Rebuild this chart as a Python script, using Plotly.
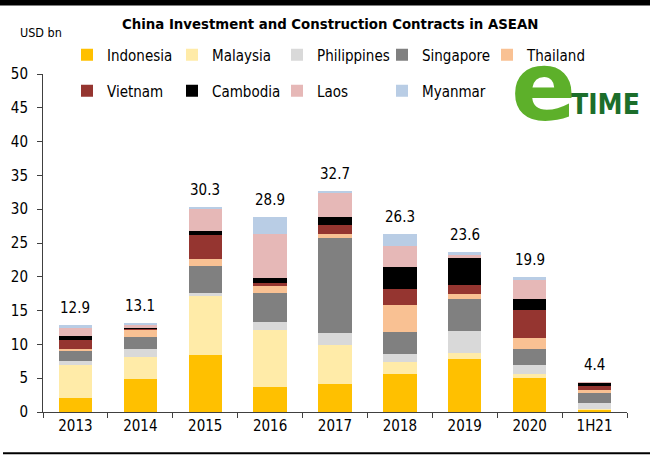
import plotly.graph_objects as go

years = ["2013", "2014", "2015", "2016", "2017", "2018", "2019", "2020", "1H21"]
indonesia   = [2.0, 4.9, 8.5, 3.7, 4.1, 5.6, 7.9, 5.1, 0.3]
malaysia    = [5.0, 3.3, 8.6, 8.5, 5.8, 1.8, 0.8, 0.5, 0.1]
philippines = [0.6, 1.1, 0.5, 1.1, 1.8, 1.2, 3.3, 1.4, 1.0]
singapore   = [1.5, 1.8, 4.0, 4.3, 14.1, 3.2, 4.7, 2.3, 1.4]
thailand    = [0.2, 1.0, 1.0, 1.1, 0.6, 4.0, 0.7, 1.7, 0.4]
vietnam     = [1.3, 0.3, 3.6, 0.4, 1.3, 2.4, 1.4, 4.1, 0.7]
cambodia    = [0.7, 0.1, 0.6, 0.7, 1.1, 3.3, 4.0, 1.6, 0.4]
laos        = [1.2, 0.3, 3.3, 6.5, 3.6, 3.1, 0.4, 2.8, 0.1]
myanmar     = [0.4, 0.3, 0.2, 2.6, 0.3, 1.7, 0.4, 0.4, 0.0]
totals      = [12.9, 13.1, 30.3, 28.9, 32.7, 26.3, 23.6, 19.9, 4.4]
total_labels = ["12.9", "13.1", "30.3", "28.9", "32.7", "26.3", "23.6", "19.9", "4.4"]
y_ticks = [0, 5, 10, 15, 20, 25, 30, 35, 40, 45, 50]

series = [
    ("Indonesia", indonesia, "#FFC000", "legend"),
    ("Malaysia", malaysia, "#FFEBA8", "legend"),
    ("Philippines", philippines, "#D9D9D9", "legend"),
    ("Singapore", singapore, "#808080", "legend"),
    ("Thailand", thailand, "#F9C193", "legend"),
    ("Vietnam", vietnam, "#953530", "legend2"),
    ("Cambodia", cambodia, "#000000", "legend2"),
    ("Laos", laos, "#E6B8B7", "legend2"),
    ("Myanmar", myanmar, "#B9CDE5", "legend2"),
]

W, H = 650, 457
L, R = 43, 627
T, B = 74, 411.7

def px_x(p):
    return (p - L) / (R - L)

def px_y(p):
    return (B - p) / (B - T)

FONT = "DejaVu Sans Condensed"

fig = go.Figure()
for name, vals, col, lg in series:
    fig.add_trace(go.Bar(x=years, y=vals, name=name, legend=lg,
                         marker=dict(color=col, line=dict(width=0))))

annotations = []
for i, (tot, lab) in enumerate(zip(totals, total_labels)):
    annotations.append(dict(x=i, y=tot, text=lab, showarrow=False, xref="x", yref="y",
                            yanchor="middle", yshift=17, font=dict(family=FONT, size=15, color="#000")))

annotations += [
    dict(x=px_x(330), y=px_y(24), xref="paper", yref="paper", text="<b>China Investment and Construction Contracts in ASEAN</b>",
         showarrow=False, xanchor="center", yanchor="middle", font=dict(family=FONT, size=14.8, color="#000")),
    dict(x=px_x(18), y=px_y(33), xref="paper", yref="paper", text="USD bn",
         showarrow=False, xanchor="left", yanchor="middle", font=dict(family=FONT, size=12.5, color="#000")),
    dict(x=px_x(543), y=px_y(87), xref="paper", yref="paper", text="<b>e</b>",
         showarrow=False, xanchor="center", yanchor="middle", font=dict(family="DejaVu Sans", size=96, color="#5DB02A")),
    dict(x=px_x(605), y=px_y(104), xref="paper", yref="paper", text="<b>TIME</b>",
         showarrow=False, xanchor="center", yanchor="middle", font=dict(family=FONT, size=28, color="#1C6E2B")),
    dict(x=px_x(325), y=px_y(2.5), xref="paper", yref="paper", text=" ", width=656, height=5,
         showarrow=False, xanchor="center", yanchor="middle", bgcolor="#000", borderpad=0,
         borderwidth=0, font=dict(size=2, color="#000")),
]

shapes = [
    dict(type="rect", xref="paper", yref="paper", x0=px_x(-2), x1=px_x(652), y0=px_y(5.5), y1=px_y(-6),
         fillcolor="#000", line=dict(width=0), layer="above"),
    dict(type="line", xref="paper", yref="paper", x0=px_x(3), x1=px_x(650), y0=px_y(453), y1=px_y(453),
         line=dict(color="#000", width=2)),
]

leg_common = dict(orientation="h", xanchor="left", yanchor="middle",
                  entrywidth=60, entrywidthmode="pixels", traceorder="normal",
                  font=dict(family=FONT, size=15, color="#000"), bgcolor="rgba(0,0,0,0)",
                  itemwidth=30)

fig.update_layout(
    width=W, height=H,
    margin=dict(l=L, r=W - R, t=T, b=H - B, pad=0, autoexpand=False),
    barmode="stack", bargap=0.485,
    paper_bgcolor="#fff", plot_bgcolor="#fff",
    font=dict(family=FONT, size=15, color="#000"),
    showlegend=True,
    legend=dict(x=px_x(67), y=px_y(55), **leg_common),
    legend2=dict(x=px_x(67), y=px_y(91), **leg_common),
    annotations=annotations,
    shapes=shapes,
    xaxis=dict(type="category", showline=True, linecolor="#404040", linewidth=1,
               ticks="outside", tickson="boundaries", ticklen=5, tickcolor="#404040",
               showgrid=False, tickangle=0, automargin=False,
               tickfont=dict(family=FONT, size=15, color="#000")),
    yaxis=dict(range=[0, 50], tickvals=y_ticks, showline=True, linecolor="#404040", linewidth=1,
               ticks="outside", ticklen=5, tickcolor="#404040", showgrid=False, zeroline=False,
               automargin=False,
               tickfont=dict(family=FONT, size=15, color="#000"), ticklabelstandoff=6),
)

fig.write_html("out.html", config={"displayModeBar": False},
               post_script="document.documentElement.style.margin='0';document.body.style.margin='0';"
                           "document.body.style.padding='0';window.scrollTo(0,0);")
